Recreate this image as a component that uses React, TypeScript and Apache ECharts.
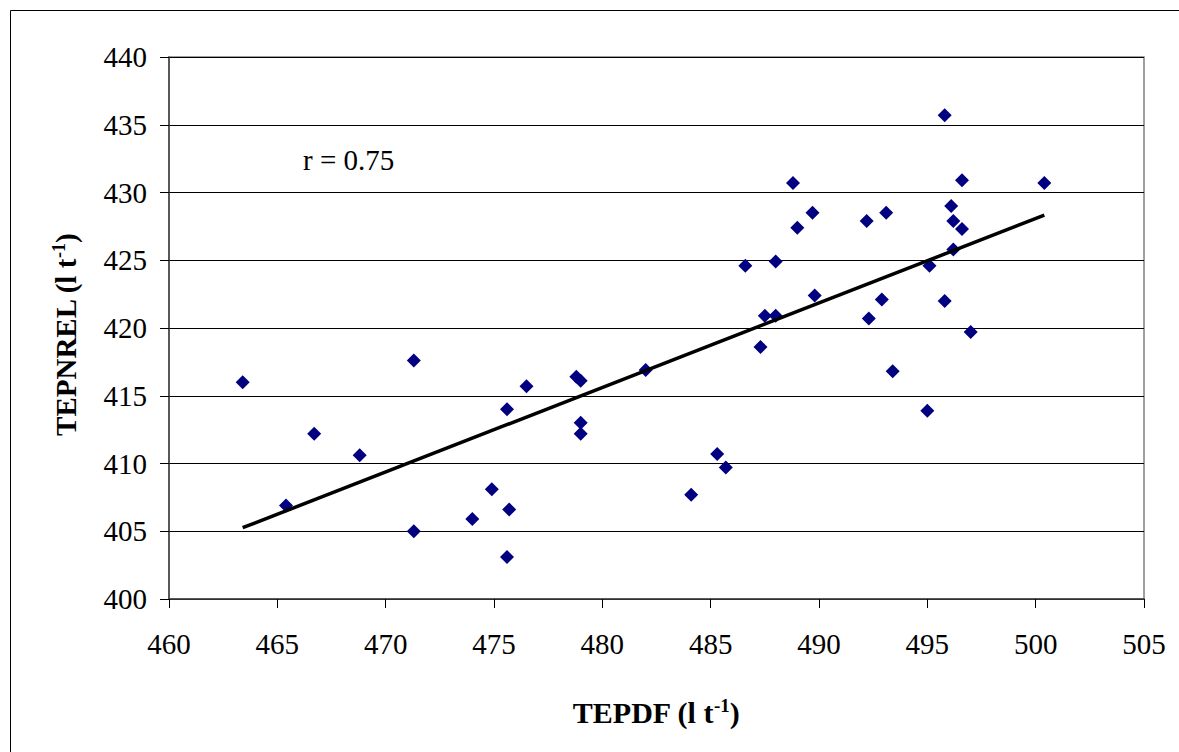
import React, { useEffect, useRef } from "react";
import * as echarts from "echarts";

const tepdf: number[] = [
  463.4, 471.3, 476.5, 475.6, 466.7, 468.8, 465.4, 474.9, 475.7, 474.0, 471.3, 475.6,
  488.8, 489.7, 489.0, 486.6, 488.0, 489.8, 487.5, 488.0, 487.3, 482.0, 478.8, 479.0,
  479.0, 479.0, 485.3, 485.7, 484.1, 495.8, 496.6, 500.4, 492.2, 493.1, 496.1, 496.2,
  496.6, 496.2, 495.1, 492.9, 495.8, 492.3, 497.0, 493.4, 495.0,
];
const tepnrel: number[] = [
  416.0, 417.6, 415.7, 414.0, 412.2, 410.6, 406.9, 408.1, 406.6, 405.9, 405.0, 403.1,
  430.7, 428.5, 427.4, 424.6, 424.9, 422.4, 420.9, 420.9, 418.6, 416.9, 416.4, 416.1,
  413.0, 412.2, 410.7, 409.7, 407.7, 435.7, 430.9, 430.7, 427.9, 428.5, 429.0, 427.9,
  427.3, 425.8, 424.6, 422.1, 422.0, 420.7, 419.7, 416.8, 413.9,
];
const xTicks = { min: 460, max: 505, interval: 5 };
const yTicks = { min: 400, max: 440, interval: 5 };
const rLabel = "r = 0.75";

function regression(xs: number[], ys: number[]) {
  const n = xs.length;
  const mx = xs.reduce((a, b) => a + b, 0) / n;
  const my = ys.reduce((a, b) => a + b, 0) / n;
  let sxy = 0, sxx = 0;
  for (let i = 0; i < n; i++) {
    sxy += (xs[i] - mx) * (ys[i] - my);
    sxx += (xs[i] - mx) * (xs[i] - mx);
  }
  const b = sxy / sxx;
  const a = my - b * mx;
  const x0 = Math.min(...xs);
  const x1 = Math.max(...xs);
  return [[x0, a + b * x0], [x1, a + b * x1]];
}

export default function App() {
  const ref = useRef<HTMLDivElement>(null);
  useEffect(() => {
    document.body.style.margin = "0";
    const chart = echarts.init(ref.current!, undefined, { renderer: "svg" });
    const font = "'Liberation Serif', 'Times New Roman', serif";
    const points = tepdf.map((x, i) => [x, tepnrel[i]]);
    const trend = regression(tepdf, tepnrel);
    chart.setOption({
      animation: false,
      backgroundColor: "#ffffff",
      grid: {
        left: 169,
        top: 57,
        right: 35,
        bottom: 153,
        show: true,
        borderColor: "#808080",
        borderWidth: 1.5,
        backgroundColor: "transparent",
      },
      xAxis: {
        type: "value",
        min: xTicks.min,
        max: xTicks.max,
        interval: xTicks.interval,
        axisLine: { show: true, onZero: false, lineStyle: { color: "#404040", width: 1.5 } },
        axisTick: { show: true, inside: false, length: 9, lineStyle: { color: "#000", width: 1 } },
        splitLine: { show: false },
        axisLabel: { color: "#000", fontFamily: font, fontSize: 29, margin: 30 },
      },
      yAxis: {
        type: "value",
        min: yTicks.min,
        max: yTicks.max,
        interval: yTicks.interval,
        axisLine: { show: true, onZero: false, lineStyle: { color: "#404040", width: 1.5 } },
        axisTick: { show: true, inside: false, length: 9, lineStyle: { color: "#000", width: 1 } },
        splitLine: { show: true, lineStyle: { color: "#000", width: 1 } },
        axisLabel: { color: "#000", fontFamily: font, fontSize: 29, margin: 22 },
      },
      series: [
        {
          type: "scatter",
          data: points,
          symbol: "diamond",
          symbolSize: 14,
          itemStyle: { color: "#000080", opacity: 1 },
          z: 3,
        },
        {
          type: "line",
          data: trend,
          symbol: "none",
          lineStyle: { color: "#000", width: 3.5 },
          z: 4,
        },
      ],
      graphic: [
        {
          type: "rect",
          shape: { x: 10.5, y: 10.5, width: 1300, height: 900 },
          style: { fill: "none", stroke: "#000", lineWidth: 1 },
          silent: true,
        },
        {
          type: "text",
          x: 303,
          y: 160,
          style: {
            text: rLabel,
            fontFamily: font,
            fontSize: 29,
            fill: "#000",
            verticalAlign: "middle",
            align: "left",
          },
        },
        {
          type: "text",
          x: 656,
          y: 712,
          style: {
            text: "TEPDF (l t{sup|-1})",
            fontFamily: font,
            fontSize: 30,
            fontWeight: "bold",
            fill: "#000",
            align: "center",
            verticalAlign: "middle",
            rich: {
              sup: { fontSize: 19, fontWeight: "bold", fontFamily: font, verticalAlign: "top", padding: [0, 0, 14, 0], fill: "#000" },
            },
          },
        },
        {
          type: "text",
          x: 66,
          y: 335,
          rotation: Math.PI / 2,
          style: {
            text: "TEPNREL (l t{sup|-1})",
            fontFamily: font,
            fontSize: 29,
            fontWeight: "bold",
            fill: "#000",
            align: "center",
            verticalAlign: "middle",
            rich: {
              sup: { fontSize: 18, fontWeight: "bold", fontFamily: font, verticalAlign: "top", padding: [0, 0, 14, 0], fill: "#000" },
            },
          },
        },
      ],
    });
    return () => chart.dispose();
  }, []);
  return <div ref={ref} style={{ width: 1179, height: 752 }} />;
}
